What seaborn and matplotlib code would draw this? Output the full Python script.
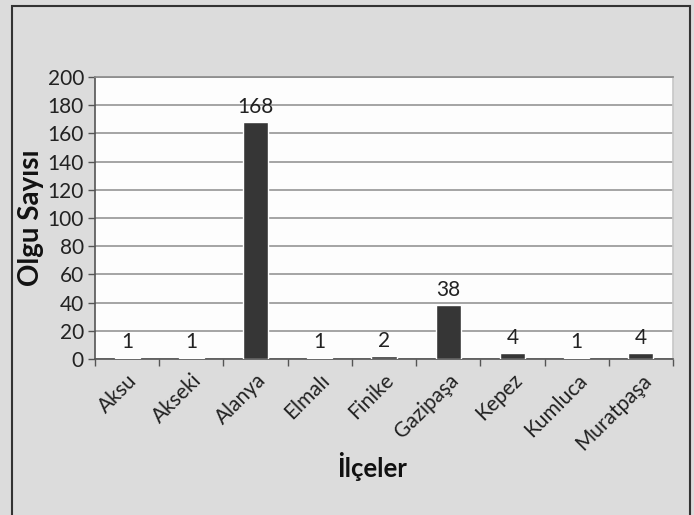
import matplotlib
matplotlib.use("Agg")
import matplotlib.pyplot as plt
import seaborn as sns
import pandas as pd
from matplotlib.patches import Rectangle
from matplotlib.ticker import FixedLocator

districts = ["Aksu", "Akseki", "Alanya", "Elmalı", "Finike", "Gazipaşa", "Kepez", "Kumluca", "Muratpaşa"]
cases = [1, 1, 168, 1, 2, 38, 4, 1, 4]
y_ticks = [0, 20, 40, 60, 80, 100, 120, 140, 160, 180, 200]

df = pd.DataFrame({"district": districts, "cases": cases})

sns.set_theme(style="white")
plt.rcParams['font.family'] = ['Lato', 'DejaVu Sans']

fig = plt.figure(figsize=(6.94, 5.15), dpi=100)
fig.patch.set_facecolor("#dcdcdc")
W, H = 694, 515
ax = fig.add_axes([95 / W, 1 - 359 / H, (673 - 95) / W, (359 - 77) / H])
ax.set_facecolor("#fdfdfd")

sns.barplot(data=df, x="district", y="cases", color="#363636", width=0.39,
            saturation=1, ax=ax, zorder=3)

ax.set_ylim(0, 200)
ax.set_xlim(-0.5, len(districts) - 0.5)
ax.set_yticks(y_ticks)
ax.yaxis.grid(True, color="#8c8c8c", linewidth=1.1, zorder=0)
ax.set_axisbelow(True)

for i, v in enumerate(cases):
    ax.annotate(str(v), (i, v), xytext=(0, 4), textcoords="offset points",
                ha="center", va="bottom", fontsize=15, color="#222222", zorder=4)

for side in ["left", "bottom"]:
    ax.spines[side].set_color("#555555")
    ax.spines[side].set_linewidth(1.2)
ax.spines["top"].set_color("#8c8c8c")
ax.spines["right"].set_color("#c8c8c8")

ax.tick_params(axis="y", which="major", length=5, width=1, color="#555555",
               labelsize=15, labelcolor="#222222", left=True, pad=3)
ax.tick_params(axis="x", which="major", length=0, labelsize=15, labelcolor="#222222", pad=8)
ax.xaxis.set_minor_locator(FixedLocator([i - 0.5 for i in range(len(districts) + 1)]))
ax.tick_params(axis="x", which="minor", length=5, width=1, color="#555555", bottom=True)

for lbl in ax.get_xticklabels():
    lbl.set_rotation(45)
    lbl.set_ha("right")
    lbl.set_va("top")
    lbl.set_rotation_mode("anchor")

ax.set_xlabel("İlçeler", fontsize=18.5, fontweight="bold", color="#111111")
ax.xaxis.set_label_coords((372 - 95) / (673 - 95), -(452 - 359) / (359 - 77))
ax.set_ylabel("Olgu Sayısı", fontsize=20, fontweight="bold", color="#111111")
ax.yaxis.set_label_coords(-(95 - 44) / (673 - 95), 0.5)

# outer chart frame
fig.patches.append(Rectangle((12 / W, -0.05), (690 - 12) / W, 1.05 - 6 / H,
                             transform=fig.transFigure, fill=False,
                             edgecolor="#333333", linewidth=1.5, zorder=10))

fig.savefig("out.png", dpi=100, facecolor=fig.get_facecolor())
